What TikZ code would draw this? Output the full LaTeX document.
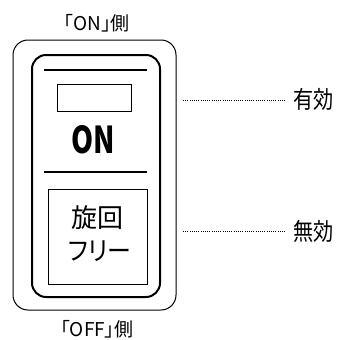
\documentclass[tikz,border=0pt]{standalone}
\usepackage{fontspec}
\setmainfont{Noto Sans CJK JP}[RawFeature=+palt]
\usetikzlibrary{positioning}

\begin{document}
\begin{tikzpicture}[
    x=1pt, y=-1pt,
    side label/.style={font=\fontsize{19}{20}\selectfont, inner sep=0pt},
    state label/.style={font=\fontsize{24}{25}\selectfont, inner sep=0pt, anchor=west, xscale=0.84},
    dot line/.style={line width=0.7pt, dash pattern=on 1pt off 1.2pt, shorten >=8pt},
    frame/.style={draw, rounded corners=15pt}
]
    \useasboundingbox (0,0) rectangle (339,340);

    % Switch body
    \draw[frame, line width=1pt] (13,40) rectangle (176,310);
    \draw[frame, line width=2pt, rounded corners=14pt] (32,55) rectangle (160,297);
    \draw[line width=1.2pt] (44,70) -- (147,70);
    \draw[line width=1.2pt] (44,172) -- (147,172);
    \draw[line width=1pt] (57,84) rectangle (131,111);
    \draw[line width=1pt] (48,189) rectangle (147,284);

    % Nodes
    \node[side label] (onside) at (97,23) {「ON」側};
    \node[side label] (offside) at (97,329) {「OFF」側};
    \node[inner sep=0pt] (on) at (93,140) {\scalebox{0.76}[1]{\fontsize{37}{38}\selectfont\bfseries ON}};
    \node[inner sep=0pt] (senkai) at (97,218) {\fontsize{26}{27}\selectfont 旋回};
    \node[inner sep=0pt] (free) at (100,251) {\scalebox{0.92}[1]{\fontsize{26}{27}\selectfont フリー}};
    \node[state label] (yuko) at (293,99) {有効};
    \node[state label] (muko) at (293,231) {無効};
    \coordinate (yuko start) at (183,100);
    \coordinate (muko start) at (183,231);

    % Edges
    \draw[dot line] (yuko start) -- (yuko.west |- yuko start);
    \draw[dot line] (muko start) -- (muko.west |- muko start);
\end{tikzpicture}
\end{document}
